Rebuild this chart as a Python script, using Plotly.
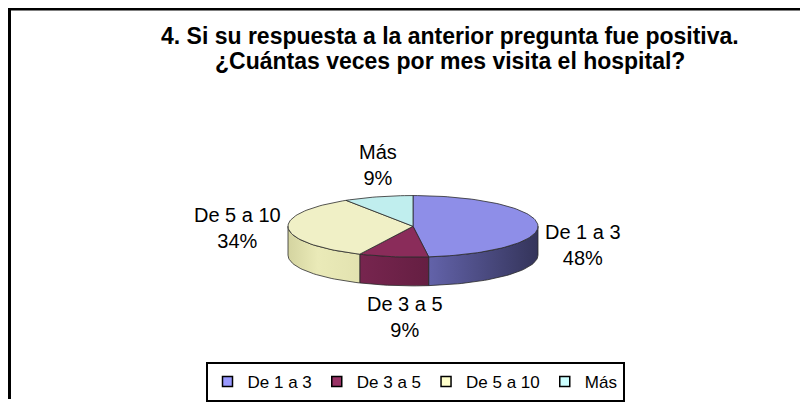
import numpy as np
import plotly.graph_objects as go

# ---- data ----
categories = ["De 1 a 3", "De 3 a 5", "De 5 a 10", "Más"]
percentages = [48, 9, 34, 9]
title_lines = ["4. Si su respuesta a la anterior pregunta fue positiva.",
               "¿Cuántas veces por mes visita el hospital?"]

# ---- style ----
legend_colors = ["#9999FF", "#993366", "#FFFFCC", "#CCFFFF"]
top_colors = ["#8e8ee8", "#8a2c5a", "#f0f0c6", "#c0eeee"]
side_scales = [
    [[0, "#8484d4"], [0.55, "#6464ac"], [1, "#34345a"]],
    [[0, "#8a2c5c"], [1, "#48142e"]],
    [[0, "#d4d4a0"], [0.12, "#eaeab8"], [1, "#c4c48e"]],
    [[0, "#bfeaea"], [1, "#7fa8a8"]],
]
FONT = "Arial, Liberation Sans, sans-serif"
CX, CY, RX, RY, DEPTH = 413, 228, 125, 31, 29
EDGE = "#2a2a2a"
# page body has an 8px margin: the figure sits at (8, 8) in the window
OFF = 8
W, H = 808 - OFF, 402 - OFF


def arc(a, b, dy=0.0):
    n = max(2, int(abs(b - a) / 2) + 2)
    t = np.radians(np.linspace(a, b, n))
    return CX + RX * np.sin(t), CY - RY * np.cos(t) + dy


fig = go.Figure()

total = float(sum(percentages))
bounds = []
acc = 0.0
for v in percentages:
    a = acc / total * 360.0
    acc += v
    b = acc / total * 360.0
    bounds.append((a, b))

# side walls (front half: 90..270 deg)
for i, (a, b) in enumerate(bounds):
    lo, hi = max(a, 90.0), min(b, 270.0)
    if hi <= lo:
        continue
    xt, yt = arc(lo, hi)
    xb, yb = arc(lo, hi, DEPTH)
    xs = np.concatenate([xt, xb[::-1], xt[:1]])
    ys = np.concatenate([yt, yb[::-1], yt[:1]])
    fig.add_trace(go.Scatter(
        x=xs, y=ys, mode="lines", fill="toself",
        fillgradient=dict(type="horizontal", colorscale=side_scales[i],
                          start=CX - RX, stop=CX + RX),
        line=dict(color=EDGE, width=0.8), showlegend=False, hoverinfo="skip"))

# top faces
for i, (a, b) in enumerate(bounds):
    xa, ya = arc(a, b)
    xs = np.concatenate([[CX], xa, [CX]])
    ys = np.concatenate([[CY], ya, [CY]])
    fig.add_trace(go.Scatter(
        x=xs, y=ys, mode="lines", fill="toself", fillcolor=top_colors[i],
        line=dict(color=EDGE, width=0.8), showlegend=False,
        hovertext=f"{categories[i]}: {percentages[i]}%", hoverinfo="text"))

# legend entries
for i, name in enumerate(categories):
    fig.add_trace(go.Scatter(
        x=[None], y=[None], mode="markers", name=name,
        marker=dict(symbol="square", size=10, color=legend_colors[i],
                    line=dict(color="black", width=1.5))))

# data labels
annotations = []
for i, (a, b) in enumerate(bounds):
    m = np.radians((a + b) / 2)
    s, c = np.sin(m), np.cos(m)
    ex = CX + RX * s
    ey = CY - RY * c
    text = f"{categories[i]}<br>{round(percentages[i] / total * 100)}%"
    if abs(s) >= 0.7:
        ann = dict(x=ex + np.sign(s) * 5, y=ey + DEPTH * 0.7 * (1 + s) / 2,
                   xanchor="left" if s > 0 else "right", yanchor="middle")
    elif c > 0:
        ann = dict(x=ex, y=ey - 6, xanchor="center", yanchor="bottom")
    else:
        ann = dict(x=ex + 12, y=ey + DEPTH + 6, xanchor="center", yanchor="top")
    ann.update(text=text, showarrow=False, xref="x", yref="y",
               font=dict(family=FONT, size=20, color="black"))
    annotations.append(ann)

# title
for k, line in enumerate(title_lines):
    annotations.append(dict(
        text=f"<b>{line}</b>", x=450, y=36 + 25 * k, xref="x", yref="y",
        xanchor="center", yanchor="middle", showarrow=False,
        font=dict(family=FONT, size=23, color="black")))

fig.update_layout(
    width=W, height=H,
    margin=dict(l=0, r=0, t=0, b=0),
    paper_bgcolor="white", plot_bgcolor="white",
    xaxis=dict(range=[OFF, OFF + W], visible=False, fixedrange=True),
    yaxis=dict(range=[OFF + H, OFF], visible=False, fixedrange=True),
    annotations=annotations,
    shapes=[dict(type="rect", xref="x", yref="y", x0=9.5, y0=9, x1=830, y1=430,
                 line=dict(color="black", width=3))],
    showlegend=True,
    legend=dict(orientation="h", x=(415 - OFF) / W, xanchor="center",
                y=1 - (365 - OFF) / H, yanchor="top",
                bordercolor="black", borderwidth=2, bgcolor="white",
                itemwidth=30, font=dict(family=FONT, size=17, color="black"),
                tracegroupgap=0),
)

fig.write_html("out.html")
